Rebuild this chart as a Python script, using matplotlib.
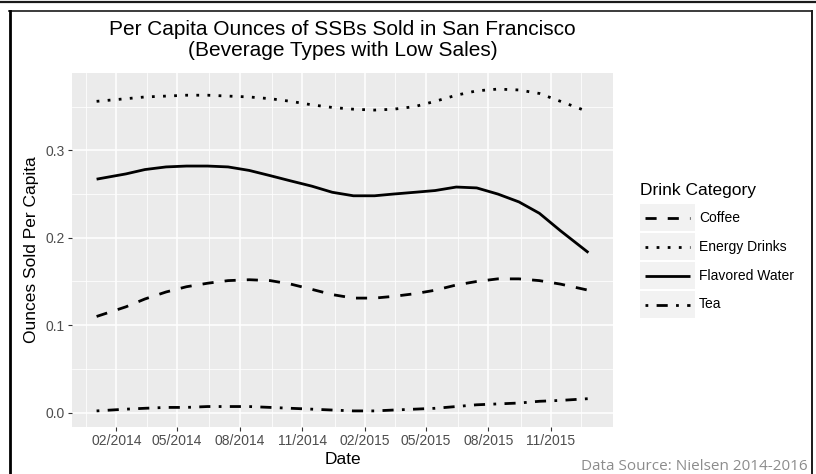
import matplotlib
matplotlib.use("Agg")
import matplotlib.dates as mdates
import matplotlib.pyplot as plt
import pandas as pd
from matplotlib.lines import Line2D
from matplotlib.patches import Rectangle

plt.rcParams["font.family"] = "Liberation Sans"

# smoothed per-capita ounces
dates = pd.to_datetime([
    "2014-01-03", "2014-02-15", "2014-03-15", "2014-04-15", "2014-05-15",
    "2014-06-15", "2014-07-15", "2014-08-15", "2014-09-15", "2014-10-15",
    "2014-11-15", "2014-12-15", "2015-01-15", "2015-02-15", "2015-03-15",
    "2015-04-15", "2015-05-15", "2015-06-15", "2015-07-15", "2015-08-15",
    "2015-09-15", "2015-10-15", "2015-11-15", "2015-12-26",
])
coffee = [0.110, 0.121, 0.130, 0.138, 0.144, 0.148, 0.151, 0.152, 0.151, 0.147,
          0.141, 0.135, 0.131, 0.131, 0.133, 0.136, 0.140, 0.146, 0.150, 0.153,
          0.153, 0.151, 0.147, 0.140]
energy = [0.356, 0.359, 0.361, 0.362, 0.363, 0.363, 0.362, 0.361, 0.359, 0.356,
          0.352, 0.349, 0.347, 0.346, 0.347, 0.350, 0.356, 0.363, 0.368, 0.370,
          0.369, 0.365, 0.356, 0.344]
flavored = [0.267, 0.273, 0.278, 0.281, 0.282, 0.282, 0.281, 0.277, 0.271, 0.265,
            0.259, 0.252, 0.248, 0.248, 0.250, 0.252, 0.254, 0.258, 0.257, 0.250,
            0.241, 0.228, 0.208, 0.183]
tea = [0.002, 0.004, 0.005, 0.006, 0.006, 0.007, 0.007, 0.007, 0.006, 0.005,
       0.004, 0.003, 0.002, 0.002, 0.003, 0.004, 0.005, 0.007, 0.009, 0.010,
       0.011, 0.013, 0.014, 0.016]

categories = ["Coffee", "Energy Drinks", "Flavored Water", "Tea"]
series = [coffee, energy, flavored, tea]
styles = [(0, (4, 4)), (0, (1, 3)), "solid", (0, (1, 3, 4, 3))]

tick_dates = pd.date_range("2014-02-01", "2015-11-01", freq="3MS")

W, H = 816, 474
fig = plt.figure(figsize=(W / 100, H / 100), dpi=100)
ax = fig.add_axes([72 / W, (H - 427) / H, 541 / W, 354 / H])

for vals, ls in zip(series, styles):
    ax.plot(dates, vals, color="black", lw=2.0, linestyle=ls,
            dash_capstyle="butt", solid_capstyle="butt")

# ggplot-style 5% expansion
x0, x1 = mdates.date2num(dates[0]), mdates.date2num(dates[-1])
pad = (x1 - x0) * 0.05
ax.set_xlim(x0 - pad, x1 + pad)
all_vals = coffee + energy + flavored + tea
ypad = (max(all_vals) - min(all_vals)) * 0.05
ax.set_ylim(min(all_vals) - ypad, max(all_vals) + ypad)

ax.set_facecolor("#EBEBEB")
for s in ax.spines.values():
    s.set_visible(False)
ax.set_xticks(tick_dates)
ax.xaxis.set_major_formatter(mdates.DateFormatter("%m/%Y"))
tick_nums = mdates.date2num(tick_dates)
step = tick_nums[1] - tick_nums[0]
minor_x = [t - step / 2 for t in tick_nums] + [tick_nums[-1] + step / 2]
ax.set_xticks(minor_x, minor=True)
ax.set_yticks([0.0, 0.1, 0.2, 0.3])
ax.set_yticks([0.05, 0.15, 0.25, 0.35], minor=True)
ax.yaxis.set_major_formatter(plt.FuncFormatter(lambda v, p: f"{v:.1f}"))
ax.grid(which="major", color="white", lw=1.1)
ax.grid(which="minor", color="white", lw=0.55)
ax.set_axisbelow(True)
ax.tick_params(which="major", length=3, width=0.8, color="#333333",
               labelcolor="#4D4D4D", labelsize=10, pad=2)
ax.tick_params(which="minor", length=0)

ax.set_xlabel("Date", fontsize=12.5, labelpad=3)
ax.set_ylabel("Ounces Sold Per Capita", fontsize=12.5, labelpad=5)

fig.text(342.5 / W, 1 - 40 / H, "Per Capita Ounces of SSBs Sold in San Francisco\n"
         "(Beverage Types with Low Sales)", ha="center", va="center",
         fontsize=15, linespacing=1.1)

fig.text(808 / W, 1 - 466 / H, "Data Source: Nielsen 2014-2016", ha="right",
         va="center", fontsize=11, color="#8C8C8C", family="Open Sans")

# legend drawn by hand so the keys get the grey boxes
fig.text(640 / W, 1 - 190 / H, "Drink Category", ha="left", va="center",
         fontsize=12.5)
key_tops = [204, 233, 262, 291]
for name, ls, top in zip(categories, styles, key_tops):
    fig.add_artist(Rectangle((640 / W, 1 - (top + 27) / H), 55 / W, 27 / H,
                             transform=fig.transFigure, facecolor="#F2F2F2",
                             edgecolor="none"))
    yc = 1 - (top + 13.5) / H
    fig.add_artist(Line2D([645 / W, 690 / W], [yc, yc], transform=fig.transFigure,
                          color="black", lw=2.0, linestyle=ls,
                          dash_capstyle="butt", solid_capstyle="butt"))
    fig.text(699 / W, yc, name, ha="left", va="center", fontsize=10)

# outer frame from the screenshot
frame = "#1A1A1A"
fig.add_artist(Line2D([0, 1], [1 - 1.5 / H, 1 - 1.5 / H], transform=fig.transFigure,
                      color=frame, lw=1.6))
fig.add_artist(Line2D([8.5 / W, 812 / W], [1 - 10.5 / H, 1 - 10.5 / H],
                      transform=fig.transFigure, color=frame, lw=1.2))
fig.add_artist(Line2D([9.5 / W, 9.5 / W], [0, 1 - 10.5 / H], transform=fig.transFigure,
                      color="black", lw=2.0))
fig.add_artist(Line2D([812 / W, 812 / W], [0, 1 - 10.5 / H], transform=fig.transFigure,
                      color=frame, lw=1.4))

fig.savefig("out.png", dpi=100)
